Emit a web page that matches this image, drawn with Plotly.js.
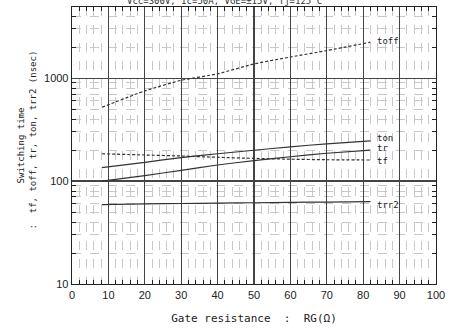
<!DOCTYPE html>
<html><head><meta charset="utf-8">
<script src="https://cdn.plot.ly/plotly-3.0.1.min.js"></script>
<style>html,body{margin:0;padding:0;background:#fff;}#c{width:449px;height:330px;}</style>
</head><body><div id="c"></div>
<script>
const rg = [8.2, 20, 30, 40, 50, 60, 70, 82];
const toff = [520, 750, 950, 1100, 1370, 1600, 1850, 2230];
const ton = [135, 152, 169, 184, 199, 215, 230, 245];
const tr = [100, 113, 127, 143, 158, 172, 186, 200];
const tf = [184, 179, 175, 170, 166, 163, 161, 160];
const trr2 = [59, 60, 60.5, 61, 61.5, 62, 62.5, 63];
const seriesNames = ["toff", "ton", "tr", "tf", "trr2"];
const seriesData = [toff, ton, tr, tf, trr2];
const dashed = {toff: true, tf: true};
const labelY = {toff: 2300, ton: 262, tr: 208, tf: 157, trr2: 58};
const xTitle = "Gate resistance  :  RG(Ω)";
const yTitle = "Switching time<br>  :  tf, toff, tr, ton, trr2 (nsec)";
const topText = "Vcc=300V, Ic=50A, VGE=±15V, Tj=125°C";

const traces = seriesNames.map((n, i) => ({
  x: rg, y: seriesData[i], type: 'scatter', mode: 'lines', name: n,
  line: {color: '#333', width: 1.2, dash: dashed[n] ? '3px,2px' : 'solid', shape: 'spline', smoothing: 0.6},
  showlegend: false, hoverinfo: 'skip'
}));

const annotations = seriesNames.map(n => ({
  x: 83.2, y: Math.log10(labelY[n]), xref: 'x', yref: 'y', text: n, showarrow: false,
  xanchor: 'left', yanchor: 'middle',
  font: {family: 'DejaVu Sans Mono', size: 9, color: '#222'}
}));
annotations.push({
  x: 0.42, y: 1, xref: 'paper', yref: 'paper', text: topText, showarrow: false,
  xanchor: 'center', yanchor: 'bottom', yshift: 0, borderpad: 0,
  font: {family: 'DejaVu Sans Mono', size: 9, color: '#333'}
});

const layout = {
  width: 449, height: 330,
  margin: {l: 72, r: 13, t: 7, b: 46},
  paper_bgcolor: '#fff', plot_bgcolor: '#fff',
  xaxis: {
    range: [0, 100], dtick: 10, tick0: 0,
    showgrid: true, gridcolor: '#444', gridwidth: 1.1,
    showline: true, linecolor: '#222', linewidth: 1.3, mirror: 'ticks',
    ticks: '', zeroline: false,
    tickfont: {family: 'Liberation Sans, Arial', size: 11, color: '#222'},
    minor: {dtick: 2, showgrid: true, gridcolor: '#c8c8c8', griddash: 'dash', gridwidth: 1,
            ticks: 'inside', ticklen: 4, tickcolor: '#222', tickwidth: 1},
    title: {text: xTitle, standoff: 14, font: {family: 'DejaVu Sans Mono', size: 11, color: '#222'}}
  },
  yaxis: {
    type: 'log', range: [1, 3.69], dtick: 1,
    showgrid: true, gridcolor: '#444', gridwidth: 1.1,
    showline: true, linecolor: '#222', linewidth: 1.3, mirror: 'ticks',
    ticks: '', zeroline: false,
    tickfont: {family: 'Liberation Sans, Arial', size: 11, color: '#222'},
    minor: {dtick: 'D1', showgrid: true, gridcolor: '#c8c8c8', griddash: 'dash', gridwidth: 1,
            ticks: 'inside', ticklen: 4, tickcolor: '#222', tickwidth: 1},
    title: {text: yTitle, standoff: 6, font: {family: 'DejaVu Sans Mono', size: 9, color: '#222'}}
  },
  annotations: annotations
};
Plotly.newPlot('c', traces, layout, {staticPlot: true, displayModeBar: false});
</script></body></html>
